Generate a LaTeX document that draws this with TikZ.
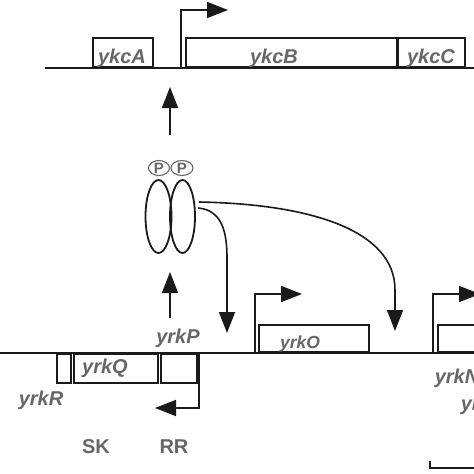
\documentclass[tikz,border=0pt]{standalone}
\usepackage{fontspec}
\setsansfont{Liberation Sans}
\usetikzlibrary{arrows.meta,shapes.geometric}
\definecolor{genegray}{HTML}{666666}
\definecolor{linedark}{HTML}{1A1A1A}
\tikzset{
  genebox/.style={draw=linedark,line width=1.6pt,inner sep=0pt,anchor=south west},
  genebelow/.style={genebox,anchor=north west},
  genename/.style={font=\sffamily\bfseries\itshape\fontsize{20}{20}\selectfont,text=genegray,anchor=base,inner sep=0pt},
  partname/.style={font=\sffamily\bfseries\fontsize{20}{20}\selectfont,text=genegray,anchor=base,inner sep=0pt},
  bigtip/.style={-{Triangle[length=21pt,width=16pt]}},
  promoter/.style={draw=linedark,line width=1.6pt,bigtip},
  monomer/.style={ellipse,draw=linedark,line width=1.8pt,minimum width=26pt,minimum height=73pt,inner sep=0pt},
  phospho/.style={ellipse,draw=genegray,line width=1.1pt,minimum width=21pt,minimum height=15pt,inner sep=0pt,
    font=\sffamily\bfseries\fontsize{15}{15}\selectfont,text=genegray},
}

\begin{document}
\begin{tikzpicture}[x=1pt,y=-1pt,line width=1.6pt,draw=linedark]
  \useasboundingbox (0,0) rectangle (474,474);
  \clip (0,0) rectangle (474,474);

  % ykc operon
  \draw (45,68) -- (474,68);
  \node[genebox,minimum width=60pt,minimum height=29pt] (ykcA) at (92,68) {};
  \node[genebox,minimum width=211pt,minimum height=29pt] (ykcB) at (185,68) {};
  \node[genebox,minimum width=67pt,minimum height=29pt] (ykcC) at (397,68) {};
  \node[genename] (ykcAtxt) at (122,63) {ykcA};
  \node[genename] (ykcBtxt) at (274,63) {ykcB};
  \node[genename] (ykcCtxt) at (431,63) {ykcC};
  \coordinate (pykcB) at (181,68);
  \draw[promoter] (pykcB) -- ++(0,-58) -- ++(47,0);

  % phosphorylated response regulator
  \node[monomer] (rrA) at (158.5,216.5) {};
  \node[monomer,minimum width=25pt] (rrB) at (182.5,216.5) {};
  \node[phospho] (pA) at (159,168) {P};
  \node[phospho,minimum width=22pt] (pB) at (182,168) {P};

  \coordinate (upfrom) at (170,135);
  \coordinate (upto) at (170,87);
  \draw[bigtip] (upfrom) -- (upto);

  \coordinate (outA) at (198,208);
  \coordinate (inO) at (227,333);
  \draw[bigtip] (outA) .. controls (222,210) and (227,232) .. (227,258) -- (inO);
  \coordinate (outB) at (199,202);
  \coordinate (inN) at (395,331);
  \draw[bigtip] (outB) .. controls (310,204) and (395,230) .. (395,290) -- (inN);

  % yrk locus
  \draw (0,353) -- (474,353);
  \node[genebelow,minimum width=14pt,minimum height=29pt] (yrkR) at (56,353) {};
  \node[genebelow,minimum width=84pt,minimum height=29pt] (yrkQ) at (73,353) {};
  \node[genebelow,minimum width=36pt,minimum height=29pt] (yrkP) at (160,353) {};
  \node[genebox,minimum width=110pt,minimum height=27pt] (yrkO) at (258,353) {};
  \node[genebox,minimum width=60pt,minimum height=27pt] (yrkN) at (437,353) {};

  \node[genename] (yrkQtxt) at (105,373) {yrkQ};
  \node[genename] (yrkPtxt) at (178,343) {yrkP};
  \node[genename] (yrkRtxt) at (41,405) {yrkR};
  \node[genename,font=\sffamily\bfseries\itshape\fontsize{17.5}{17.5}\selectfont] (yrkOtxt) at (300,348) {yrkO};
  \node[genename,anchor=base west] (yrkNtxt) at (434,383) {yrkN};
  \node[genename,anchor=base west] (yrkMtxt) at (460,410) {yrkM};
  \node[partname] (sk) at (96,453) {SK};
  \node[partname] (rr) at (174,453) {RR};

  \coordinate (pyrkP) at (199,353);
  \draw[promoter] (pyrkP) -- ++(0,55) -- ++(-44,0);
  \coordinate (pyrkO) at (255,353);
  \draw[promoter] (pyrkO) -- ++(0,-59) -- ++(47,0);
  \coordinate (pyrkN) at (433,353);
  \draw[promoter] (pyrkN) -- ++(0,-59) -- ++(47,0);

  \coordinate (upfromP) at (170,318);
  \coordinate (uptoP) at (170,272);
  \draw[bigtip] (upfromP) -- (uptoP);

  % scale bar
  \coordinate (bar) at (430,461);
  \draw[line width=1.1pt] (bar) -- ++(0,7) -- ++(50,0);
\end{tikzpicture}
\end{document}
